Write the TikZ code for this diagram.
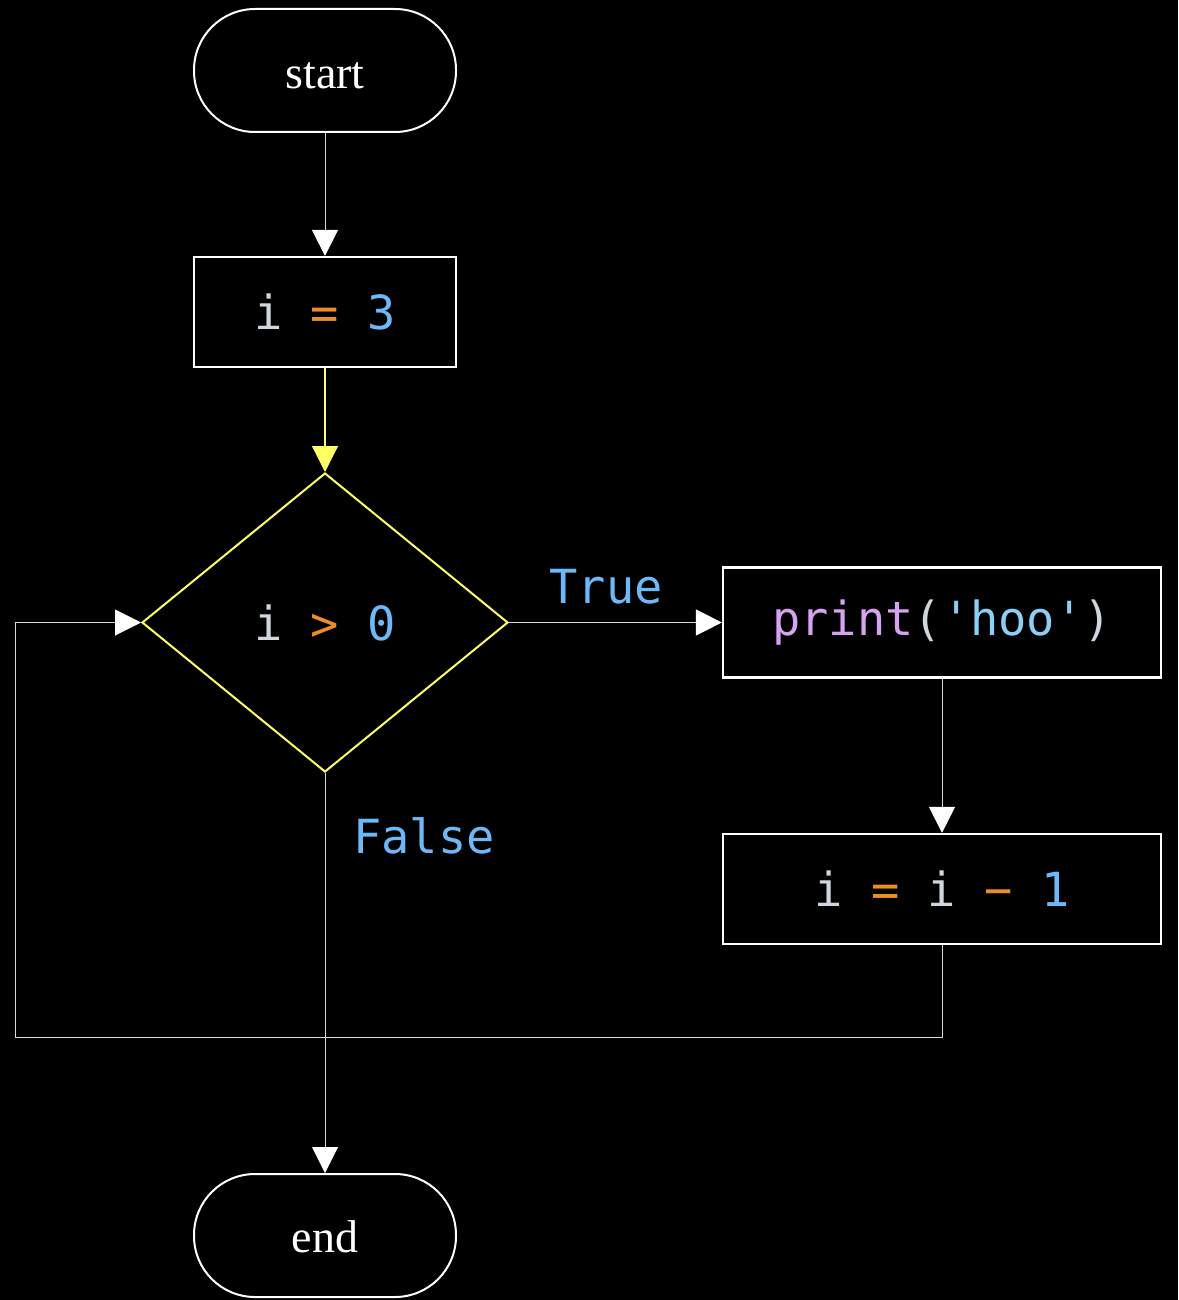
\documentclass[tikz,border=0pt]{standalone}
\usepackage{fontspec}
\setmainfont{Liberation Serif}
\newfontfamily\codefont{DejaVu Sans Mono}
\usetikzlibrary{shapes.geometric,arrows.meta}
\definecolor{cgray}{HTML}{D0D6DE}
\definecolor{corange}{HTML}{F08C28}
\definecolor{cblue}{HTML}{6CB8F8}
\definecolor{cpurple}{HTML}{D7A2F0}
\definecolor{choo}{HTML}{8CCFF5}
\definecolor{cyel}{HTML}{FFFF66}
\definecolor{lgray}{HTML}{D8D8D8}
\tikzset{
  x=1pt, y=-1pt,
  term/.style={draw=white, line width=2pt, rectangle, rounded corners=61pt,
    minimum width=262pt, minimum height=123pt, text=white,
    font=\fontsize{46}{50}\selectfont},
  proc/.style={draw=white, line width=2.2pt, rectangle,
    minimum width=262pt, minimum height=110pt, font=\codefont\fontsize{47}{50}\selectfont},
  cond/.style={draw=cyel, line width=2pt, diamond, inner sep=0pt,
    minimum width=366pt, minimum height=299pt, font=\codefont\fontsize{47}{50}\selectfont},
  conn/.style={draw=lgray, line width=1pt,
    -{Triangle[length=26pt, width=26pt, fill=white, color=white]}},
  yconn/.style={color=cyel, draw=cyel, line width=1.2pt,
    -{Triangle[length=26pt, width=26pt, fill=cyel, color=cyel]}},
  lbl/.style={text=cblue, font=\codefont\fontsize{47}{50}\selectfont}
}
\begin{document}
\begin{tikzpicture}
\path[fill=black] (0,0) rectangle (1178,1300);
\useasboundingbox (0,0) rectangle (1178,1300);
\node[term] (start) at (325,70.5) {\raisebox{-18pt}[0pt][0pt]{start}};
\node[proc] (init) at (325,312) {\textcolor{cgray}{i} \textcolor{corange}{=} \textcolor{cblue}{3}};
\node[cond] (test) at (325,622.5) {\textcolor{cgray}{i} \textcolor{corange}{>} \textcolor{cblue}{0}};
\node[proc, minimum width=438pt] (pr) at (942,622.5) {\textcolor{cpurple}{print}\textcolor{cgray}{(}\textcolor{choo}{'hoo'}\textcolor{cgray}{)}};
\node[proc, minimum width=438pt] (dec) at (942,889) {\textcolor{cgray}{i} \textcolor{corange}{=} \textcolor{cgray}{i} \textcolor{corange}{−} \textcolor{cblue}{1}};
\node[term] (stop) at (325,1235.5) {\raisebox{-16.5pt}[0pt][0pt]{end}};
\node[lbl] (tl) at (606,587) {True};
\node[lbl] (fl) at (424,836) {False};
\coordinate (lp) at (15,1037);
\draw[conn] (start) -- (init);
\draw[yconn] (init) -- (test.north);
\draw[conn] (test.east) -- (pr.west);
\draw[conn] (pr) -- (dec);
\draw[conn] (dec.south) |- (lp) |- (test.west);
\draw[conn] (test.south) -- (stop.north);
\end{tikzpicture}
\end{document}
